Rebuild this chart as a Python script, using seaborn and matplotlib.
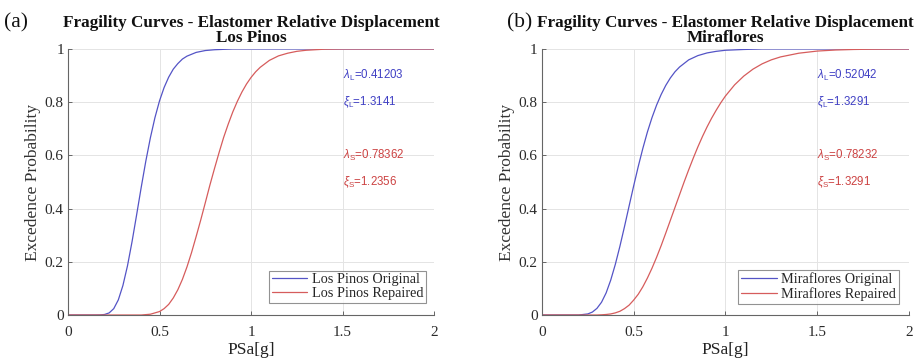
import numpy as np
import pandas as pd
import matplotlib
matplotlib.use("Agg")
import matplotlib.pyplot as plt
import seaborn as sns

# PSa [g] sample points and exceedance probabilities for each fragility curve
lp_orig_x = [0.0, 0.15, 0.175, 0.20, 0.225, 0.25, 0.275, 0.30, 0.325, 0.35, 0.375, 0.40, 0.425,
             0.45, 0.475, 0.50, 0.525, 0.55, 0.575, 0.60, 0.625, 0.65, 0.70, 0.75, 0.80, 0.90,
             1.0, 1.5, 2.0]
lp_orig_p = [0.0, 0.0, 0.0003, 0.002, 0.008, 0.024, 0.057, 0.111, 0.185, 0.276, 0.377, 0.480, 0.578,
             0.666, 0.742, 0.805, 0.855, 0.894, 0.924, 0.945, 0.962, 0.973, 0.987, 0.994, 0.997, 1.0,
             1.0, 1.0, 1.0]

lp_rep_x = [0.0, 0.40, 0.45, 0.50, 0.525, 0.55, 0.575, 0.60, 0.625, 0.65, 0.675, 0.70, 0.725,
            0.75, 0.775, 0.80, 0.825, 0.85, 0.875, 0.90, 0.925, 0.95, 0.975, 1.00, 1.025, 1.05,
            1.10, 1.15, 1.20, 1.25, 1.30, 1.35, 1.40, 1.50, 2.0]
lp_rep_p = [0.0, 0.0, 0.003, 0.013, 0.024, 0.040, 0.064, 0.095, 0.134, 0.181, 0.235, 0.295, 0.357,
            0.422, 0.488, 0.550, 0.610, 0.667, 0.717, 0.763, 0.803, 0.838, 0.868, 0.893, 0.914, 0.931,
            0.957, 0.974, 0.984, 0.991, 0.995, 0.997, 0.999, 1.0, 1.0]

mf_orig_x = [0.0, 0.20, 0.25, 0.275, 0.30, 0.325, 0.35, 0.375, 0.40, 0.425, 0.45, 0.475, 0.50,
             0.525, 0.55, 0.575, 0.60, 0.625, 0.65, 0.675, 0.70, 0.725, 0.75, 0.80, 0.85, 0.90,
             0.95, 1.00, 1.10, 1.20, 2.0]
mf_orig_p = [0.0, 0.0, 0.004, 0.011, 0.025, 0.048, 0.083, 0.131, 0.190, 0.258, 0.332, 0.409, 0.485,
             0.558, 0.626, 0.688, 0.742, 0.789, 0.829, 0.863, 0.891, 0.914, 0.932, 0.959, 0.975, 0.985,
             0.991, 0.995, 0.998, 1.0, 1.0]

mf_rep_x = [0.0, 0.30, 0.325, 0.35, 0.375, 0.40, 0.425, 0.45, 0.475, 0.50, 0.525, 0.55, 0.575,
            0.60, 0.625, 0.65, 0.675, 0.70, 0.725, 0.75, 0.775, 0.80, 0.825, 0.85, 0.875, 0.90,
            0.925, 0.95, 0.975, 1.00, 1.05, 1.10, 1.15, 1.20, 1.25, 1.30, 1.40, 1.50, 1.60, 1.70,
            1.80, 2.0]
mf_rep_p = [0.0, 0.0, 0.0008, 0.002, 0.004, 0.008, 0.014, 0.024, 0.037, 0.056, 0.078, 0.106, 0.139,
            0.176, 0.217, 0.261, 0.308, 0.356, 0.404, 0.452, 0.500, 0.546, 0.590, 0.632, 0.671, 0.707,
            0.740, 0.770, 0.798, 0.823, 0.865, 0.898, 0.924, 0.944, 0.959, 0.970, 0.984, 0.992, 0.996, 0.998,
            0.999, 1.0]

# Fitted parameters printed on each panel
lp_params = {"lam_L": "0.41203", "xi_L": "1.3141", "lam_S": "0.78362", "xi_S": "1.2356"}
mf_params = {"lam_L": "0.52042", "xi_L": "1.3291", "lam_S": "0.78232", "xi_S": "1.3291"}

x_ticks = [0, 0.5, 1, 1.5, 2]
x_tick_labels = ["0", "0.5", "1", "1.5", "2"]
y_ticks = [0, 0.2, 0.4, 0.6, 0.8, 1]
y_tick_labels = ["0", "0.2", "0.4", "0.6", "0.8", "1"]

BLUE = "#5454c6"
RED = "#d65c5c"
TXT_BLUE = "#4040c4"
TXT_RED = "#cc4242"

sns.set_style("whitegrid")
plt.rcParams["font.family"] = ["Liberation Serif", "DejaVu Serif"]
plt.rcParams["mathtext.fontset"] = "custom"
plt.rcParams["mathtext.rm"] = "Liberation Sans"
plt.rcParams["mathtext.it"] = "Liberation Sans:italic"


def make_frame(name_o, xo, po, name_r, xr, pr):
    a = pd.DataFrame({"PSa": xo, "P": po, "curve": name_o})
    b = pd.DataFrame({"PSa": xr, "P": pr, "curve": name_r})
    return pd.concat([a, b], ignore_index=True)


fig = plt.figure(figsize=(9.2, 3.62), dpi=100)
ax1 = fig.add_axes([0.0739, 0.1298, 0.398, 0.735])
ax2 = fig.add_axes([0.589, 0.1298, 0.399, 0.735])

panels = [
    (ax1, "Los Pinos", make_frame("Los Pinos Original", lp_orig_x, lp_orig_p,
                                  "Los Pinos Repaired", lp_rep_x, lp_rep_p), lp_params, (0.978, 0.045)),
    (ax2, "Miraflores", make_frame("Miraflores Original", mf_orig_x, mf_orig_p,
                                   "Miraflores Repaired", mf_rep_x, mf_rep_p), mf_params, (0.973, 0.042)),
]

TXT_KW = dict(fontsize=8.3, family="Liberation Sans", va="center", ha="left")

for ax, site, df, prm, leg_anchor in panels:
    names = list(df["curve"].unique())
    sns.lineplot(data=df, x="PSa", y="P", hue="curve", palette={names[0]: BLUE, names[1]: RED},
                 linewidth=0.9, ax=ax, sort=False, estimator=None)
    ax.set_xlim(0, 2)
    ax.set_ylim(0, 1)
    ax.set_xticks(x_ticks)
    ax.set_xticklabels(x_tick_labels)
    ax.set_yticks(y_ticks)
    ax.set_yticklabels(y_tick_labels)
    ax.grid(True, color="#e4e4e4", linewidth=0.7)
    for s in ["top", "right"]:
        ax.spines[s].set_visible(False)
    for s in ["left", "bottom"]:
        ax.spines[s].set_color("#666666")
        ax.spines[s].set_linewidth(0.8)
    ax.tick_params(direction="in", length=3, width=0.7, color="#666666",
                   labelsize=11, labelcolor="#2a2a2a", left=True, bottom=True)
    ax.tick_params(axis="x", pad=8)
    ax.tick_params(axis="y", pad=3)
    ax.set_xlabel("PSa[g]", fontsize=12.5, color="#222222", labelpad=2)
    ax.set_ylabel("Excedence Probability", fontsize=12.5, color="#333333", labelpad=3)
    ax.set_title("Fragility Curves - Elastomer Relative Displacement\n" + site,
                 fontsize=12.3, fontweight="bold", color="#111111", pad=5, linespacing=0.95)

    ax.text(1.5, 0.9, r"$\lambda_{\rm L}$=" + prm["lam_L"], color=TXT_BLUE, **TXT_KW)
    ax.text(1.5, 0.8, r"$\xi_{\rm L}$=" + prm["xi_L"], color=TXT_BLUE, **TXT_KW)
    ax.text(1.5, 0.6, r"$\lambda_{\rm S}$=" + prm["lam_S"], color=TXT_RED, **TXT_KW)
    ax.text(1.5, 0.5, r"$\xi_{\rm S}$=" + prm["xi_S"], color=TXT_RED, **TXT_KW)

    leg = ax.legend(loc="lower right", bbox_to_anchor=leg_anchor, fontsize=10.3, frameon=True,
                    fancybox=False, handlelength=2.5, handletextpad=0.3, borderpad=0.2,
                    labelspacing=0.05, borderaxespad=0.0)
    leg.get_frame().set_edgecolor("#777777")
    leg.get_frame().set_linewidth(0.8)
    leg.set_title(None)

fig.text(0.004, 0.938, "(a)", fontsize=15.5, color="#111111", va="center", ha="left")
fig.text(0.551, 0.938, "(b)", fontsize=15.5, color="#111111", va="center", ha="left")

fig.savefig("out.png", dpi=100)
